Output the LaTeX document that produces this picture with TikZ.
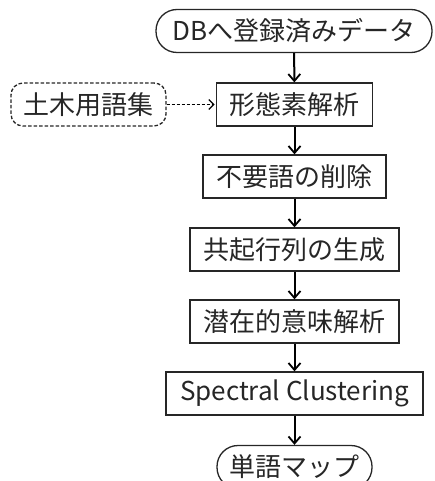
\documentclass[tikz,border=0pt]{standalone}
\usepackage{fontspec}
\setmainfont{Noto Sans CJK JP}
\usetikzlibrary{arrows.meta}
\begin{document}
\begin{tikzpicture}[x=1pt,y=-1pt,
  box/.style={draw=black!85, line width=1.3pt, minimum height=43pt, inner sep=0pt,
    font=\fontsize{26}{30}\selectfont, text=black!85},
  term/.style={box, rounded corners=21pt},
  ext/.style={box, dashed, dash pattern=on 3.5pt off 2pt, rounded corners=12pt},
  arr/.style={draw=black, line width=2pt, -{Straight Barb[length=7pt,width=12pt,line width=1.8pt]}},
  darr/.style={draw=black, line width=1.2pt, dash pattern=on 3pt off 2pt, -{Straight Barb[length=5pt,width=10pt,line width=1.2pt,sep]}}]
\useasboundingbox (0,0) rectangle (434,481);
\node[term, minimum width=276pt] (db) at (294,31) {DBへ登録済みデータ};
\node[box, minimum width=156pt] (morph) at (294.5,104.5) {形態素解析};
\node[ext, minimum width=155pt] (dict) at (88.5,104.5) {土木用語集};
\node[box, minimum width=183pt] (stop) at (294.5,176.5) {不要語の削除};
\node[box, minimum width=209pt] (cooc) at (294.5,249.5) {共起行列の生成};
\node[box, minimum width=209pt] (lsa) at (294.5,321.5) {潜在的意味解析};
\node[box, minimum width=257pt] (spec) at (294.5,393.5) {Spectral Clustering};
\node[term, minimum width=155pt] (map) at (294.5,467) {単語マップ};
\draw[arr] (db) -- (morph);
\draw[arr] (morph) -- (stop);
\draw[arr] (stop) -- (cooc);
\draw[arr] (cooc) -- (lsa);
\draw[arr] (lsa) -- (spec);
\draw[arr] (spec) -- (map);
\draw[darr] (dict) -- (morph);
\end{tikzpicture}
\end{document}
